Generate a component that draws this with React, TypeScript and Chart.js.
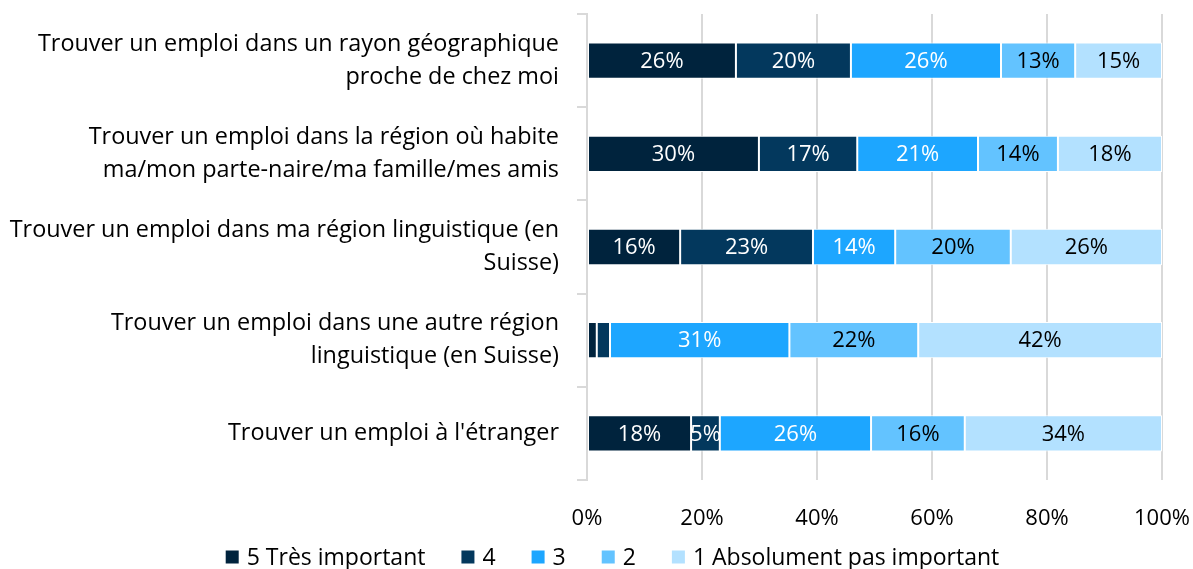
import React, { useEffect, useRef } from "react";
import { Chart, registerables } from "chart.js";

Chart.register(...registerables);

const categories: string[][] = [
  ["Trouver un emploi dans un rayon géographique", "proche de chez moi"],
  ["Trouver un emploi dans la région où habite", "ma/mon parte-naire/ma famille/mes amis"],
  ["Trouver un emploi dans ma région linguistique (en", "Suisse)"],
  ["Trouver un emploi dans une autre région", "linguistique (en Suisse)"],
  ["Trouver un emploi à l'étranger"],
];

const seriesNames = ["5 Très important", "4", "3", "2", "1 Absolument pas important"];
const s5 = [25.9, 29.9, 16.2, 1.7, 18.1];
const s4 = [20.0, 17.1, 23.1, 2.3, 5.0];
const s3 = [26.1, 21.0, 14.3, 31.2, 26.3];
const s2 = [12.9, 13.9, 20.1, 22.4, 16.3];
const s1 = [15.1, 18.1, 26.3, 42.4, 34.3];
const xTicks = [0, 20, 40, 60, 80, 100];

const colors = ["#00233d", "#03385d", "#1da6ff", "#63c3ff", "#b3e1ff"];
const labelColors = ["#ffffff", "#ffffff", "#ffffff", "#000000", "#000000"];
const FONT = "'Open Sans', sans-serif";

const valueLabels = {
  id: "valueLabels",
  afterDatasetsDraw(chart: any) {
    const ctx = chart.ctx;
    ctx.save();
    ctx.font = `22px ${FONT}`;
    ctx.textAlign = "center";
    ctx.textBaseline = "middle";
    chart.data.datasets.forEach((ds: any, di: number) => {
      const meta = chart.getDatasetMeta(di);
      meta.data.forEach((el: any, i: number) => {
        const v = ds.data[i];
        if (v < 4) return;
        const cx = (el.x + el.base) / 2;
        ctx.fillStyle = labelColors[di];
        ctx.fillText(Math.round(v) + "%", cx, el.y + 1);
      });
    });
    ctx.restore();
  },
};

const customLegend = {
  id: "customLegend",
  afterDraw(chart: any) {
    const ctx = chart.ctx;
    ctx.save();
    ctx.font = `23px ${FONT}`;
    ctx.textBaseline = "middle";
    ctx.textAlign = "left";
    const box = 13;
    const gap = 8;
    const spacing = 36;
    const widths = seriesNames.map((n) => box + gap + ctx.measureText(n).width);
    const total = widths.reduce((a, b) => a + b, 0) + spacing * (widths.length - 1);
    let x = chart.width / 2 + 16 - total / 2;
    const y = 557;
    seriesNames.forEach((n, i) => {
      ctx.fillStyle = colors[i];
      ctx.fillRect(x, y - box / 2, box, box);
      ctx.fillStyle = "#000";
      ctx.fillText(n, x + box + gap, y + 1);
      x += widths[i] + spacing;
    });
    ctx.restore();
  },
};

export default function App() {
  const ref = useRef<HTMLCanvasElement>(null);
  useEffect(() => {
    if (!ref.current) return;
    const data = [s5, s4, s3, s2, s1];
    const chart = new Chart(ref.current, {
      type: "bar",
      data: {
        labels: categories,
        datasets: seriesNames.map((n, i) => ({
          label: n,
          data: data[i],
          backgroundColor: colors[i],
          borderColor: "#ffffff",
          borderWidth: 1,
          borderSkipped: false,
          categoryPercentage: 0.39,
          barPercentage: 1,
        })),
      },
      options: {
        indexAxis: "y",
        animation: false,
        responsive: false,
        maintainAspectRatio: false,
        layout: { padding: { top: 14, right: 31, bottom: 29, left: 0 } },
        scales: {
          x: {
            stacked: true,
            min: 0,
            max: 100,
            afterBuildTicks: (axis: any) => {
              axis.ticks = xTicks.map((v) => ({ value: v }));
            },
            afterFit: (axis: any) => {
              axis.height = 60;
              axis.paddingLeft = 0;
              axis.paddingRight = 0;
            },
            grid: { color: "#d9d9d9", lineWidth: 2, drawTicks: false },
            border: { display: false },
            ticks: {
              padding: 26,
              color: "#000",
              font: { family: FONT, size: 22 },
              callback: (v: any) => v + "%",
            },
          },
          y: {
            stacked: true,
            afterFit: (axis: any) => {
              axis.width = 587;
              axis.paddingTop = 0;
              axis.paddingBottom = 0;
            },
            grid: {
              offset: true,
              drawOnChartArea: false,
              drawTicks: true,
              tickLength: 10,
              color: "#d9d9d9",
              lineWidth: 2,
            },
            border: { display: true, color: "#d9d9d9", width: 2 },
            ticks: {
              padding: 18,
              color: "#000",
              font: { family: FONT, size: 23.4, lineHeight: 1.41 },
            },
          },
        },
        plugins: {
          legend: { display: false },
          tooltip: { enabled: false },
        },
      },
      plugins: [valueLabels, customLegend],
    } as any);
    return () => chart.destroy();
  }, []);
  return (
    <div style={{ position: "fixed", left: 0, top: 0, width: 1193, height: 569, background: "#fff" }}>
      <canvas ref={ref} width={1193} height={569} style={{ width: 1193, height: 569 }} />
    </div>
  );
}
